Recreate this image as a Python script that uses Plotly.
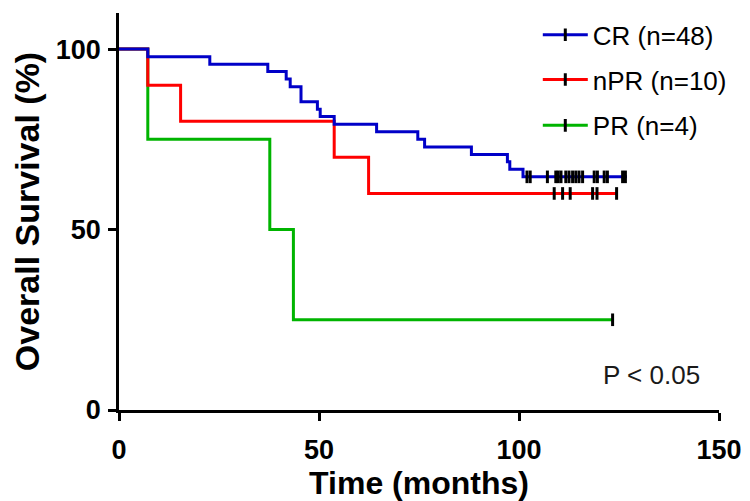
import plotly.graph_objects as go

# ---- data ----
cr_times = [0, 7.2, 22.7, 37.2, 41.8, 42.8, 45.5, 49.6, 50.3, 53.8, 64.4, 74.7, 76.4, 88.1, 97.1, 97.7, 101.0, 127.0]
cr_surv = [100, 97.9, 95.8, 93.8, 91.7, 89.6, 85.4, 83.3, 81.3, 79.2, 77.1, 75.0, 72.9, 70.8, 68.8, 66.7, 64.6, 64.6]
cr_censor = [102.0, 102.8, 107.1, 109.2, 109.8, 110.5, 111.7, 112.5, 113.4, 114.2, 115.0, 115.9,
             118.8, 119.6, 121.3, 122.1, 125.9, 126.6]

npr_times = [0, 7.2, 15.4, 53.8, 62.4, 124.4]
npr_surv = [100, 90, 80, 70, 60, 60]
npr_censor = [108.8, 110.9, 112.8, 118.4, 119.5, 124.4]

pr_times = [0, 7.2, 37.7, 43.6, 123.4]
pr_surv = [100, 75, 50, 25, 25]
pr_censor = [123.4]

names = ["CR (n=48)", "nPR (n=10)", "PR (n=4)"]
colors = ["#0000C8", "#FF0000", "#00B400"]

x_ticks = [0, 50, 100, 150]
y_ticks = [0, 50, 100]

FONT = "Liberation Sans, Arial"

groups = [
    (pr_times, pr_surv, pr_censor, colors[2]),
    (npr_times, npr_surv, npr_censor, colors[1]),
    (cr_times, cr_surv, cr_censor, colors[0]),
]

fig = go.Figure()
for t, s, c, col in groups:
    fig.add_trace(go.Scatter(x=t, y=s, mode="lines", line=dict(color=col, width=3, shape="hv"),
                             showlegend=False, hoverinfo="skip"))
    fig.add_trace(go.Scatter(x=c, y=[s[-1]] * len(c), mode="markers",
                             marker=dict(symbol="line-ns", size=9, line=dict(color="black", width=3)),
                             showlegend=False, hoverinfo="skip"))

# legend entries (line with a censor tick), one legend per entry for exact spacing
legend_ids = ["legend", "legend2", "legend3"]
for name, col, lid in zip(names, colors, legend_ids):
    fig.add_trace(go.Scatter(x=[None], y=[None], mode="lines+markers", name=name, legend=lid,
                             line=dict(color=col, width=3),
                             marker=dict(symbol="line-ns", size=9, color="black",
                                         line=dict(color="black", width=3))))

fig.add_annotation(x=133.1, y=9.7, xref="x", yref="y", text="P < 0.05", showarrow=False,
                   font=dict(family=FONT, size=26, color="#1a1a1a"))

axis_common = dict(showline=True, linecolor="black", linewidth=2.5, ticks="outside",
                   ticklen=8, tickwidth=2.5, tickcolor="black", showgrid=False, zeroline=False,
                   automargin=False,
                   tickfont=dict(family=FONT, size=27, color="black", weight="bold"))

PLOT_TOP = 3
PLOT_H = 399


def legend_box(py):
    return dict(x=0.698, y=1 - (py - PLOT_TOP) / PLOT_H, xanchor="left", yanchor="middle",
                bgcolor="rgba(0,0,0,0)", itemwidth=45,
                font=dict(family=FONT, size=26, color="black"))


fig.update_layout(
    width=750, height=501,
    margin=dict(l=111, r=39, t=PLOT_TOP, b=501 - PLOT_TOP - PLOT_H),
    paper_bgcolor="white", plot_bgcolor="white",
    xaxis=dict(range=[0, 150], tickvals=x_ticks, ticktext=[str(v) for v in x_ticks],
               ticklabelstandoff=6,
               title=dict(text="Time (months)", standoff=4,
                          font=dict(family=FONT, size=32, color="black", weight="bold")),
               **axis_common),
    yaxis=dict(range=[0, 110], tickvals=y_ticks, ticktext=[str(v) for v in y_ticks],
               ticklabelstandoff=2,
               title=dict(text="Overall Survival (%)", standoff=10,
                          font=dict(family=FONT, size=34, color="black", weight="bold")),
               **axis_common),
    legend=legend_box(25),
    legend2=legend_box(70),
    legend3=legend_box(116),
)

fig.write_html("out.html")
